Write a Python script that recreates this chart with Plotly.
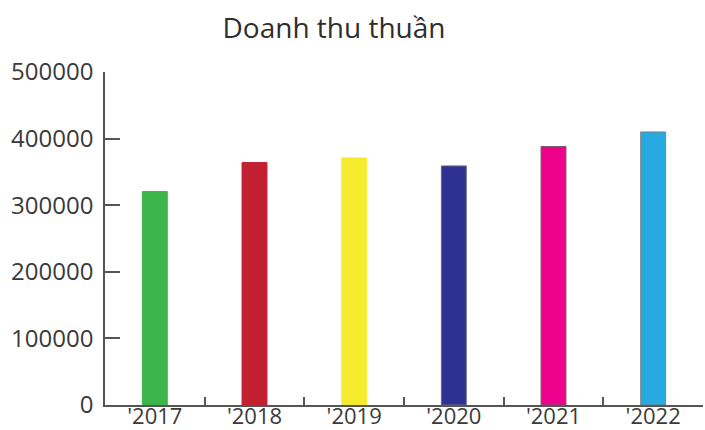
import plotly.graph_objects as go

# Net revenue by year
years = ["'2017", "'2018", "'2019", "'2020", "'2021", "'2022"]
revenue = [320500, 364000, 371000, 359000, 388000, 410000]
bar_colors = ["#3cb54a", "#c21f30", "#f5ec30", "#2e3192", "#ec008c", "#27aae1"]
edge_colors = ["#3cb54a", "#c21f30", "#f5ec30", "#6a6a80", "#7a5a6a", "#808080"]
y_ticks = [0, 100000, 200000, 300000, 400000, 500000]

FONT = "Open Sans, Liberation Sans, sans-serif"
AXIS = "#555555"

fig = go.Figure(
    go.Bar(
        x=years,
        y=revenue,
        width=0.25,
        marker=dict(color=bar_colors, line=dict(color=edge_colors, width=1)),
        hoverinfo="x+y",
    )
)

fig.update_layout(
    width=705,
    height=430,
    margin=dict(l=105, r=2, t=72, b=25, pad=0),
    paper_bgcolor="white",
    plot_bgcolor="white",
    showlegend=False,
    font=dict(family=FONT, size=24, color="#3a3a3a"),
    title=dict(
        text="Doanh thu thuần",
        x=334 / 705,
        xref="container",
        xanchor="center",
        y=1 - 28 / 430,
        yref="container",
        yanchor="middle",
        font=dict(family=FONT, size=28, color="#2e2e2e"),
    ),
)

fig.update_xaxes(
    type="category",
    tickson="boundaries",
    ticks="inside",
    ticklen=8,
    tickwidth=1.5,
    tickcolor=AXIS,
    showline=True,
    linecolor=AXIS,
    linewidth=1.5,
    showgrid=False,
    zeroline=False,
    automargin=False,
    tickfont=dict(family=FONT, size=22, color="#3a3a3a"),
    ticklabelstandoff=-9,
)

fig.update_yaxes(
    range=[0, 500000],
    tickvals=y_ticks,
    tickformat="d",
    ticks="inside",
    ticklen=15,
    tickwidth=1.5,
    tickcolor=AXIS,
    showline=True,
    linecolor=AXIS,
    linewidth=1.5,
    showgrid=False,
    zeroline=False,
    automargin=False,
    tickfont=dict(family=FONT, size=24, color="#3a3a3a"),
    ticklabelstandoff=5,
)

fig.write_html("out.html")
